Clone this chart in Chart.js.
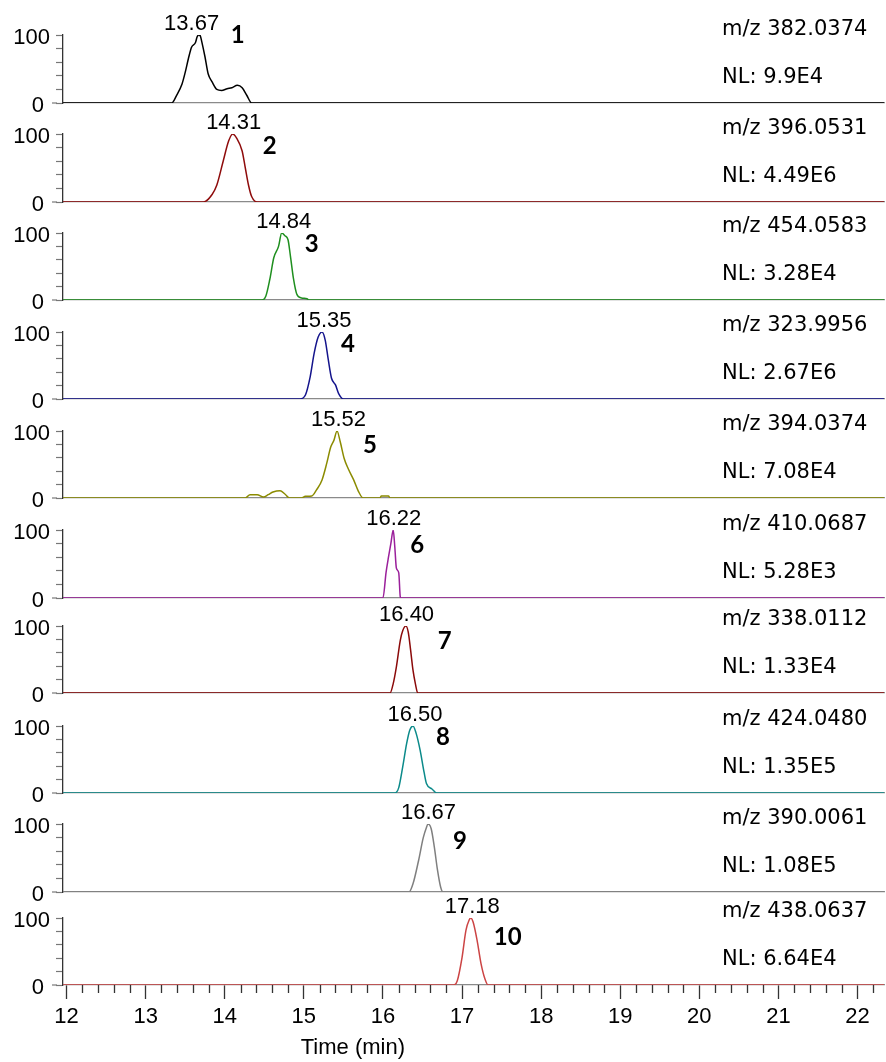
<!DOCTYPE html>
<html lang="en">
<head>
  <meta charset="UTF-8">
  <title>Extracted ion chromatograms</title>
  <style>
    body { margin: 0; background: #fff; }
    .wrap { position: relative; width: 886px; height: 1062px; overflow: hidden; }
    .wrap canvas { position: absolute; left: 0; }
  </style>
</head>
<body>
  <div class="wrap" id="wrap"></div>

  <script src="https://cdn.jsdelivr.net/npm/chart.js"></script>
  <script>
  // retention time (min) and relative abundance (%) of each trace
  const time1 = [11.95, 13.33, 13.39, 13.46, 13.50, 13.54, 13.58, 13.63, 13.65, 13.67, 13.69, 13.71, 13.75, 13.79, 13.84, 13.90, 13.96, 14.03, 14.09, 14.16, 14.22, 14.28, 14.34, 22.34]
  const abund1 = [0, 0, 11, 28, 45, 65, 82, 89, 97, 100, 99, 90, 68, 43, 31, 20, 18.5, 21, 22.5, 26, 22.5, 11, 0, 0]
  const time2 = [11.95, 13.73, 13.84, 13.90, 13.98, 14.05, 14.10, 14.15, 14.22, 14.26, 14.30, 14.34, 14.41, 22.34]
  const abund2 = [0, 0, 11, 25, 60, 90, 100, 94, 75, 50, 25, 8, 0, 0]
  const time3 = [11.95, 14.47, 14.52, 14.57, 14.62, 14.68, 14.72, 14.76, 14.80, 14.83, 14.87, 14.91, 14.97, 15.04, 15.06, 22.34]
  const abund3 = [0, 0, 6, 31, 63, 80, 100, 96, 90, 66, 31, 9, 3, 2, 0, 0]
  const time4 = [11.95, 14.95, 15.02, 15.08, 15.13, 15.18, 15.23, 15.27, 15.31, 15.35, 15.40, 15.44, 15.50, 22.34]
  const abund4 = [0, 0, 6, 33, 68, 92, 100, 88, 58, 31, 21, 8, 0, 0]
  const time5 = [11.95, 14.26, 14.32, 14.41, 14.49, 14.55, 14.61, 14.70, 14.76, 14.82, 14.97, 15.02, 15.10, 15.16, 15.23, 15.29, 15.34, 15.38, 15.42, 15.46, 15.51, 15.56, 15.63, 15.69, 15.75, 15.96, 15.98, 16.07, 16.09, 22.34]
  const abund5 = [0, 0, 5, 5, 1.5, 5, 9, 11, 6, 0, 0, 2.5, 3, 12, 27, 52, 76, 86, 100, 84, 59, 44, 27, 10, 0, 0, 3, 3, 0, 0]
  const time6 = [11.95, 16.00, 16.04, 16.07, 16.10, 16.13, 16.15, 16.17, 16.20, 16.22, 16.23, 22.34]
  const abund6 = [0, 0, 38, 60, 80, 100, 75, 44, 37, 1, 0, 0]
  const time7 = [11.95, 16.09, 16.13, 16.17, 16.22, 16.25, 16.29, 16.32, 16.35, 16.38, 16.41, 16.44, 22.34]
  const abund7 = [0, 0, 14, 39, 79, 93, 100, 91, 64, 34, 14, 0, 0]
  const time8 = [11.95, 16.15, 16.20, 16.25, 16.30, 16.34, 16.38, 16.42, 16.47, 16.52, 16.55, 16.62, 16.68, 22.34]
  const abund8 = [0, 0, 8, 39, 74, 94, 100, 89, 64, 31, 14, 6, 0, 0]
  const time9 = [11.95, 16.33, 16.38, 16.45, 16.51, 16.55, 16.57, 16.61, 16.65, 16.69, 16.73, 16.76, 22.34]
  const abund9 = [0, 0, 12, 46, 80, 95, 100, 93, 66, 32, 7, 0, 0]
  const time10 = [11.95, 16.89, 16.94, 17.00, 17.05, 17.09, 17.11, 17.14, 17.19, 17.24, 17.29, 17.33, 22.34]
  const abund10 = [0, 0, 6.5, 41, 82, 97, 100, 94, 67, 32, 9, 0, 0]

  const peakLabels = ['13.67', '14.31', '14.84', '15.35', '15.52', '16.22', '16.40', '16.50', '16.67', '17.18']
  const peakNumbers = ['1', '2', '3', '4', '5', '6', '7', '8', '9', '10']
  const mzLabels = ['m/z 382.0374', 'm/z 396.0531', 'm/z 454.0583', 'm/z 323.9956', 'm/z 394.0374',
    'm/z 410.0687', 'm/z 338.0112', 'm/z 424.0480', 'm/z 390.0061', 'm/z 438.0637']
  const nlLabels = ['NL: 9.9E4', 'NL: 4.49E6', 'NL: 3.28E4', 'NL: 2.67E6', 'NL: 7.08E4',
    'NL: 5.28E3', 'NL: 1.33E4', 'NL: 1.35E5', 'NL: 1.08E5', 'NL: 6.64E4']
  const xTicks = [12, 13, 14, 15, 16, 17, 18, 19, 20, 21, 22]
  const yTicks = [0, 20, 40, 60, 80, 100]

  const traces = [
    [time1, abund1], [time2, abund2], [time3, abund3], [time4, abund4], [time5, abund5],
    [time6, abund6], [time7, abund7], [time8, abund8], [time9, abund9], [time10, abund10]
  ]
  const colors = ['#000000', '#8e0b0b', '#1f8f1f', '#14148c', '#8b8b00',
    '#9b209b', '#8b0a0a', '#0b8a8a', '#7f7f7f', '#cc4444']

  // layout: pixel rows of the 100 % and 0 % lines of every panel
  const tops = [35, 134, 233, 332, 431, 530, 626, 726, 824, 918]
  const bases = [103, 202, 300, 399, 498, 598, 693, 793, 892, 985]
  const labelDx = [-7, 1, 2, 2, 1.5, 0.5, 0.7, 2, 0.5, 1.5]
  const numberPos = [[32, 8], [30, 20], [23, 19], [19, 20], [26, 22], [17, 23], [32, 23], [23, 19], [25, 25], [23, 27]]
  const ROOM_TOP = 34
  const ROOM_BOTTOM = 24
  const W = 886, H = 1062
  const X_MIN = 11.955, X_MAX = 22.335

  // minor ticks every 0.2 min between the labelled minutes
  const xTickValues = []
  xTicks.forEach(m => { for (let k = 0; k < 5; k++) if (m + k / 5 <= X_MAX) xTickValues.push(m + k / 5) })

  const font = '"Liberation Sans", Arial, sans-serif'

  const decorate = (i, last) => ({
    id: 'decorate',
    afterDraw(chart) {
      const {ctx, chartArea: a, scales: {x, y}} = chart
      const [t, v] = traces[i]
      const b = y.getPixelForValue(0)
      ctx.save()
      // the zero tick is longer than the others
      ctx.strokeStyle = '#777'
      ctx.lineWidth = 1.2
      ctx.beginPath()
      ctx.moveTo(a.left - 11, b)
      ctx.lineTo(a.left - 6, b)
      ctx.stroke()
      if (last) {
        ctx.strokeStyle = '#333'
        ctx.lineWidth = 1.3
        ctx.beginPath()
        xTickValues.filter(val => !Number.isInteger(val)).forEach(val => {
          const px = Math.round(x.getPixelForValue(val)) + 0.5
          ctx.moveTo(px, a.bottom)
          ctx.lineTo(px, a.bottom + 8)
        })
        ctx.stroke()
      }
      const k = v.indexOf(Math.max(...v))
      const px = x.getPixelForValue(t[k])
      const py = y.getPixelForValue(100)
      ctx.fillStyle = '#000'
      ctx.textBaseline = 'alphabetic'
      ctx.font = '22px ' + font
      ctx.textAlign = 'center'
      ctx.fillText(peakLabels[i], px + labelDx[i], py - 5)
      ctx.font = 'bold 24px Lato, ' + font
      ctx.textAlign = 'left'
      ctx.fillText(peakNumbers[i], px + numberPos[i][0], py + numberPos[i][1])
      ctx.font = '21px "DejaVu Sans", sans-serif'
      ctx.fillText(mzLabels[i], 722, b - 68)
      ctx.fillText(nlLabels[i], 722, b - 20)
      if (last) {
        ctx.font = '22px ' + font
        ctx.textAlign = 'center'
        ctx.fillText('Time (min)', x.getPixelForValue(15.62), H - tops[i] + ROOM_TOP - 8)
      }
      ctx.restore()
    }
  })

  const wrap = document.getElementById('wrap')
  traces.forEach(([t, v], i) => {
    const last = i === traces.length - 1
    const top = tops[i] - ROOM_TOP
    const bottom = last ? H : bases[i] + ROOM_BOTTOM
    const canvas = document.createElement('canvas')
    canvas.width = W
    canvas.height = bottom - top
    canvas.style.top = top + 'px'
    wrap.appendChild(canvas)

    new Chart(canvas, {
      type: 'line',
      data: {
        datasets: [{
          data: t.map((tm, j) => ({x: tm, y: v[j]})),
          borderColor: colors[i],
          borderWidth: 1.5,
          pointRadius: 0,
          cubicInterpolationMode: 'monotone'
        }]
      },
      options: {
        responsive: false,
        animation: false,
        events: [],
        layout: {padding: {top: ROOM_TOP, bottom: last ? 0 : ROOM_BOTTOM, left: 0, right: 2}},
        plugins: {legend: {display: false}, tooltip: {enabled: false}},
        scales: {
          x: {
            type: 'linear',
            min: X_MIN,
            max: X_MAX,
            afterFit: s => { s.height = last ? H - bases[i] : 0 },
            afterBuildTicks: s => { s.ticks = xTickValues.map(val => ({value: val})) },
            ticks: {
              display: last,
              autoSkip: false,
              maxRotation: 0,
              padding: 5,
              color: '#000',
              font: {family: font, size: 22},
              callback: val => xTicks.includes(val) ? String(val) : ''
            },
            grid: {
              display: last,
              drawOnChartArea: false,
              tickLength: 14,
              tickWidth: 1.3,
              tickColor: c => Number.isInteger(c.tick.value) ? '#333' : 'rgba(0,0,0,0)'
            },
            border: {display: true, color: '#8a8a8a', width: 1.3}
          },
          y: {
            min: 0,
            max: 100,
            afterFit: s => { s.width = 63 },
            afterBuildTicks: s => { s.ticks = yTicks.map(val => ({value: val})) },
            ticks: {
              autoSkip: false,
              padding: 6,
              labelOffset: 2.5,
              color: '#000',
              font: {family: font, size: 22},
              callback: val => val === 100 ? '100' : val === 0 ? '0 ' : ''
            },
            grid: {drawOnChartArea: false, tickLength: 7, tickWidth: 1.2, tickColor: '#777'},
            border: {color: '#333', width: 1.3}
          }
        }
      },
      plugins: [decorate(i, last)]
    })
  })
  </script>
</body>
</html>
